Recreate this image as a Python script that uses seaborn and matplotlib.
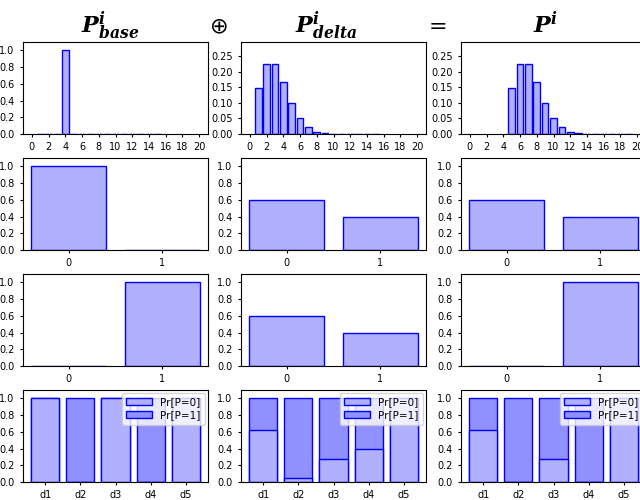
import seaborn as sns
import matplotlib.pyplot as plt
from matplotlib.patches import Patch

# row 1: value distributions (value -> probability)
base_vals = [1, 2, 3, 4, 5, 6, 7, 8, 9, 10, 11, 12, 13, 14, 15]
base_prob = [0.0, 0.0, 0.0, 1.0, 0.0, 0.0, 0.0, 0.0, 0.0, 0.0, 0.0, 0.0, 0.0, 0.0, 0.0]
delta_vals = [1, 2, 3, 4, 5, 6, 7, 8, 9, 10, 11, 12, 13, 14, 15]
delta_prob = [0.149, 0.224, 0.224, 0.168, 0.101, 0.050, 0.022, 0.008, 0.003,
              0.0008, 0.0002, 0.0001, 0.0, 0.0, 0.0]
res_vals = [5, 6, 7, 8, 9, 10, 11, 12, 13, 14, 15, 16, 17, 18, 19]
res_prob = [0.149, 0.224, 0.224, 0.168, 0.101, 0.050, 0.022, 0.008, 0.003,
            0.0008, 0.0002, 0.0001, 0.0, 0.0, 0.0]

# rows 2 and 3: binary attributes
bin_cats = ['0', '1']
row2_base = [1.0, 0.0]
row2_delta = [0.6, 0.4]
row2_res = [0.6, 0.4]
row3_base = [0.0, 1.0]
row3_delta = [0.6, 0.4]
row3_res = [0.0, 1.0]

# row 4: Pr[P=0] per document, stacked on a total of 1
docs = ['d1', 'd2', 'd3', 'd4', 'd5']
total = [1.0, 1.0, 1.0, 1.0, 1.0]
p0_base = [1.0, 0.0, 1.0, 0.0, 1.0]
p0_delta = [0.62, 0.05, 0.27, 0.40, 1.0]
p0_res = [0.62, 0.0, 0.27, 0.0, 1.0]

light = '#b0b0ff'
dark = '#9090ff'
edge = 'blue'

# plain matplotlib look (black text and spines)
plt.rcParams['font.family'] = ['DejaVu Sans']
plt.rcParams['mathtext.fontset'] = 'custom'
plt.rcParams['mathtext.bf'] = 'DejaVu Serif:italic:bold'
plt.rcParams['xtick.labelsize'] = 7
plt.rcParams['ytick.labelsize'] = 7
plt.rcParams['xtick.major.size'] = 2.5
plt.rcParams['ytick.major.size'] = 2.5

W, H = 640, 500
fig = plt.figure(figsize=(6.4, 5.0), dpi=100)

col_left = [23, 241, 461]
row_top = [42, 158, 274, 390]
aw, ah = 185, 92


def make_ax(r, c):
    return fig.add_axes([col_left[c] / W, 1 - (row_top[r] + ah) / H, aw / W, ah / H])


def bars(ax, x, y, color, native=False):
    sns.barplot(x=x, y=y, ax=ax, color=color, saturation=1, edgecolor=edge,
                linewidth=1, width=0.8, errorbar=None, native_scale=native)
    ax.set_xlabel('')
    ax.set_ylabel('')


# row 1
for c, (xv, yv) in enumerate([(base_vals, base_prob), (delta_vals, delta_prob), (res_vals, res_prob)]):
    ax = make_ax(0, c)
    bars(ax, xv, yv, light, native=True)
    ax.set_xlim(-1.05, 21.05)
    ax.set_xticks(range(0, 21, 2))
    if c == 0:
        ax.set_ylim(0, 1.1)
        ax.set_yticks([0, 0.2, 0.4, 0.6, 0.8, 1.0])
    else:
        ax.set_ylim(0, 0.295)
        ax.set_yticks([0, 0.05, 0.10, 0.15, 0.20, 0.25])
        ax.set_yticklabels(['0.00', '0.05', '0.10', '0.15', '0.20', '0.25'])

# rows 2 and 3
for r, series in [(1, [row2_base, row2_delta, row2_res]), (2, [row3_base, row3_delta, row3_res])]:
    for c, yv in enumerate(series):
        ax = make_ax(r, c)
        bars(ax, bin_cats, yv, light)
        ax.set_xlim(-0.49, 1.49)
        ax.set_ylim(0, 1.1)
        ax.set_yticks([0, 0.2, 0.4, 0.6, 0.8, 1.0])

# row 4
for c, p0 in enumerate([p0_base, p0_delta, p0_res]):
    ax = make_ax(3, c)
    bars(ax, docs, total, dark)
    bars(ax, docs, p0, light)
    ax.set_xlim(-0.64, 4.64)
    ax.set_ylim(0, 1.1)
    ax.set_yticks([0, 0.2, 0.4, 0.6, 0.8, 1.0])
    handles = [Patch(facecolor=light, edgecolor=edge), Patch(facecolor=dark, edgecolor=edge)]
    ax.legend(handles, ['Pr[P=0]', 'Pr[P=1]'], loc='upper right', fontsize=7.5,
              handlelength=2.5, borderaxespad=0.3, labelspacing=0.3)

# equation header
ty = 1 - 33 / H
fig.text(110 / W, ty, r'$\mathbf{P}^{\mathbf{i}}_{\mathbf{base}}$', fontsize=16, ha='center', va='baseline')
fig.text(218 / W, ty, r'$\oplus$', fontsize=16, ha='center', va='baseline')
fig.text(326 / W, ty, r'$\mathbf{P}^{\mathbf{i}}_{\mathbf{delta}}$', fontsize=16, ha='center', va='baseline')
fig.text(438 / W, ty, '=', fontsize=16, ha='center', va='baseline')
fig.text(545 / W, ty, r'$\mathbf{P}^{\mathbf{i}}$', fontsize=16, ha='center', va='baseline')

fig.savefig('out.png', dpi=100)
